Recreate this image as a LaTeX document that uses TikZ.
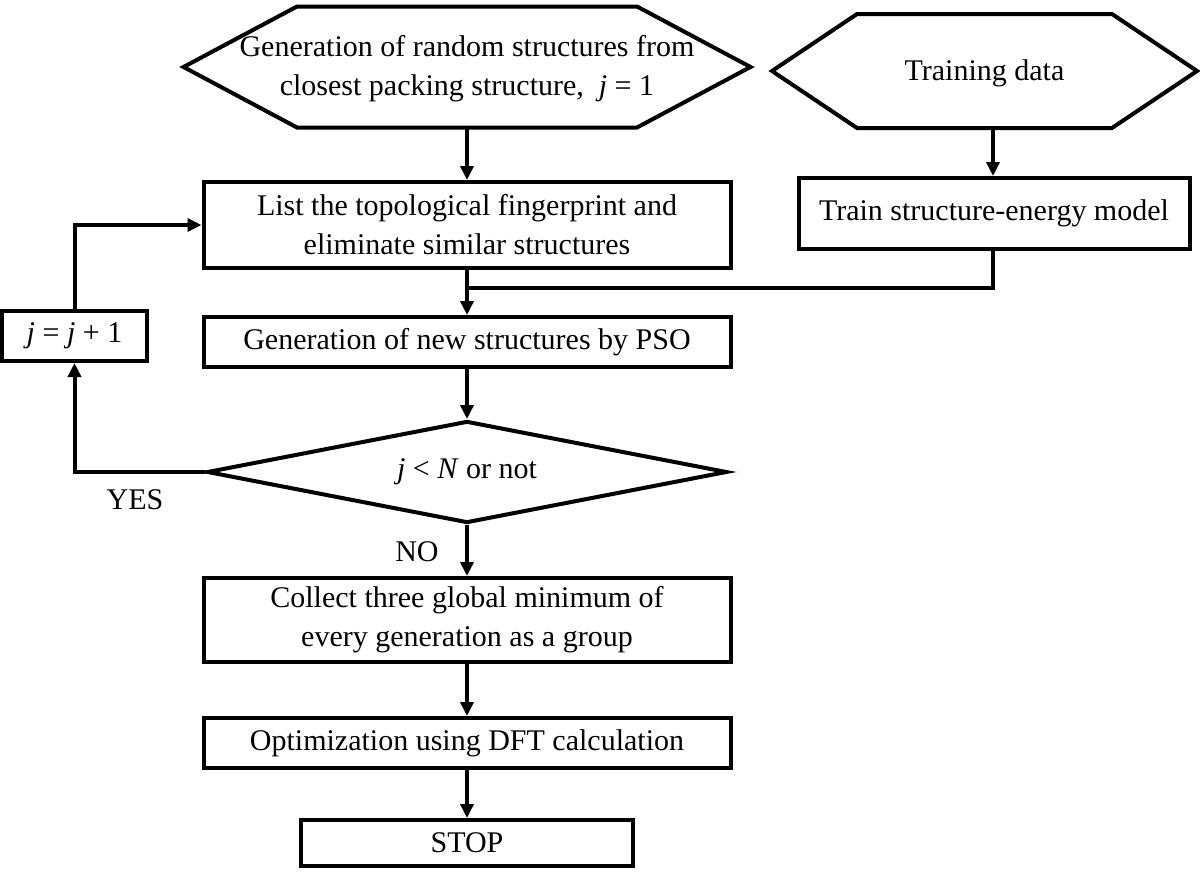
\documentclass[tikz,border=0pt]{standalone}
\usepackage{fontspec}
\setmainfont{Liberation Serif}
\usetikzlibrary{arrows.meta,shapes.geometric}
\tikzset{
  every node/.style={font=\fontsize{30}{39}\selectfont, align=center},
  proc/.style={draw, line width=4pt, rectangle, inner sep=0pt},
  hexbox/.style={draw=none, rectangle, inner sep=0pt},
  decide/.style={draw, line width=4pt, diamond, shape aspect=6, inner sep=0pt},
  conn/.style={line width=4pt},
  arr/.style={line width=4pt, -{Triangle[length=14pt,width=13pt]}},
  lbl/.style={inner sep=0pt}
}
\begin{document}
\begin{tikzpicture}[x=1pt,y=-1pt]
\useasboundingbox (0,0) rectangle (1200,873);
% hexagon text holders
\node[hexbox] (hex1) at (467,69)
  {Generation of random structures from\\closest packing structure,\ \ \textit{j} = 1};
\node[hexbox] (hex2) at (984.5,73)
  {Training data};
\draw[conn, line join=miter]
  ([shift={(-170,-62.5)}]hex1.center) -- ([shift={(170,-62.5)}]hex1.center)
  -- ([shift={(283.5,-2)}]hex1.center) -- ([shift={(170,58.5)}]hex1.center)
  -- ([shift={(-170,58.5)}]hex1.center) -- ([shift={(-283.5,-2)}]hex1.center) -- cycle;
\draw[conn, line join=miter]
  ([shift={(-127.5,-59)}]hex2.center) -- ([shift={(127.5,-59)}]hex2.center)
  -- ([shift={(212.5,-2)}]hex2.center) -- ([shift={(127.5,55)}]hex2.center)
  -- ([shift={(-127.5,55)}]hex2.center) -- ([shift={(-212.5,-2)}]hex2.center) -- cycle;
\coordinate (hex1b) at (467,127);
\coordinate (hex2b) at (993,128);

\node[proc, minimum width=527pt, minimum height=86pt] (box1) at (467,225)
  {List the topological fingerprint and\\eliminate similar structures};
\node[proc, minimum width=391pt, minimum height=71pt] (box2) at (994,213.5)
  {Train structure-energy model};
\node[proc, minimum width=527pt, minimum height=50pt] (box3) at (467,342)
  {Generation of new structures by PSO};
\node[proc, minimum width=145pt, minimum height=50pt] (jbox) at (74.5,336)
  {\textit{j} = \textit{j} + 1};
\node[decide, minimum width=520pt, minimum height=102pt] (dia) at (467,472)
  {\textit{j} < \textit{N} or not};
\node[proc, minimum width=527pt, minimum height=84pt] (box4) at (467,620)
  {Collect three global minimum of\\every generation as a group};
\node[proc, minimum width=527pt, minimum height=50pt] (box5) at (467,743)
  {Optimization using DFT calculation};
\node[proc, minimum width=332pt, minimum height=46pt] (box6) at (467,843)
  {STOP};

\node[lbl] (yes) at (135,500) {YES};
\node[lbl] (no) at (417,552) {NO};

\coordinate (junc) at (467,288);

\draw[arr] (hex1b) -- (box1.north);
\draw[arr] (hex2b) -- (hex2b |- box2.north);
\draw[conn] (box2.south -| hex2b) |- (junc);
\draw[arr] (box1.south) -- (box3.north);
\draw[arr] (box3.south) -- (dia.north);
\draw[arr] (dia.west) -| (jbox.south);
\draw[arr] (jbox.north) |- (box1.west);
\draw[arr] (dia.south) -- (box4.north);
\draw[arr] (box4.south) -- (box5.north);
\draw[arr] (box5.south) -- (box6.north);
\end{tikzpicture}
\end{document}
